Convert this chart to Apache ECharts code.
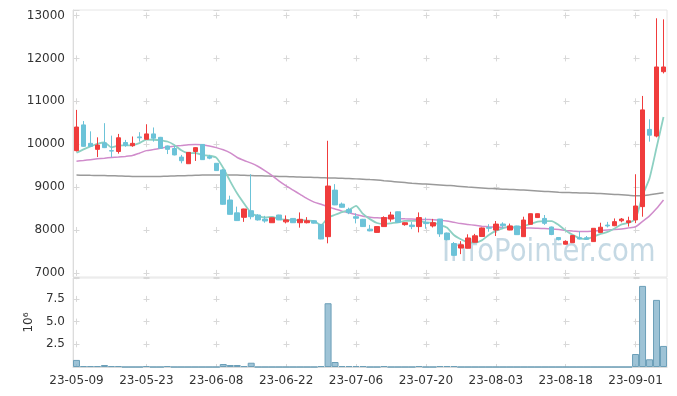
<!DOCTYPE html>
<html><head><meta charset="utf-8">
<script src="https://cdn.jsdelivr.net/npm/echarts@6/dist/echarts.min.js"></script>
<style>html,body{margin:0;padding:0;background:#fff}#c{width:677px;height:396px}</style>
</head><body><div id="c"></div>
<script>
const dates = ['23-05-09','23-05-10','23-05-11','23-05-12','23-05-15','23-05-16','23-05-17','23-05-18','23-05-19','23-05-22',
'23-05-23','23-05-24','23-05-25','23-05-26','23-05-30','23-05-31','23-06-01','23-06-02','23-06-05','23-06-07',
'23-06-08','23-06-09','23-06-12','23-06-13','23-06-14','23-06-15','23-06-16','23-06-19','23-06-20','23-06-21',
'23-06-22','23-06-23','23-06-26','23-06-27','23-06-28','23-06-29','23-06-30','23-07-03','23-07-04','23-07-05',
'23-07-06','23-07-07','23-07-10','23-07-11','23-07-12','23-07-13','23-07-14','23-07-17','23-07-18','23-07-19',
'23-07-20','23-07-21','23-07-24','23-07-25','23-07-26','23-07-27','23-07-28','23-07-31','23-08-01','23-08-02',
'23-08-03','23-08-04','23-08-07','23-08-08','23-08-09','23-08-10','23-08-11','23-08-14','23-08-16','23-08-17',
'23-08-18','23-08-21','23-08-22','23-08-23','23-08-24','23-08-25','23-08-28','23-08-29','23-08-30','23-08-31',
'23-09-01','23-09-04','23-09-05','23-09-06','23-09-07'];

const openP = [9850,10450,10020,9880,10030,9850,9830,10040,9965,10170,
10115,10240,10160,9960,9900,9700,9545,9830,9995,9710,
9555,9400,8700,8400,8296,8450,8350,8255,8170,8350,
8190,8270,8170,8170,8215,8130,7845,8930,8605,8480,
8310,8250,8020,7945,8080,8255,8425,8125,8115,8080,
8180,8095,8255,7930,7685,7580,7575,7715,7850,8060,
8000,8140,8000,8095,7845,8133,8290,8270,8070,7825,
7670,7705,7820,7820,7730,7945,8115,8100,8215,8175,
8235,8545,10345,10190,11690];
const closeP = [10400,9950,9950,9980,9920,9840,10150,9970,10020,10150,
10240,10140,9905,9880,9750,9615,9810,9920,9640,9675,
9385,8600,8365,8220,8490,8310,8235,8210,8285,8235,
8235,8170,8250,8215,8160,7790,9025,8585,8530,8405,
8275,8080,7980,8080,8290,8350,8180,8170,8080,8290,
8150,8170,7910,7775,7410,7655,7815,7865,8048,8040,
8138,8100,8095,7892,8233,8380,8380,8156,7895,7775,
7736,7870,7790,7785,8040,8065,8095,8195,8255,8215,
8560,10800,10210,11800,11800];
const lowP = [9830,9940,9940,9700,9910,9700,9780,9940,9940,10060,
10110,10060,9900,9770,9740,9555,9540,9610,9635,9650,
9380,8590,8360,8215,8190,8250,8220,8170,8165,8230,
8155,8165,8055,8155,8150,7785,7690,8580,8520,8370,
8155,8070,7970,7940,8075,8195,8175,8100,8020,7945,
8030,8060,7840,7760,7395,7438,7570,7710,7845,7960,
7860,8030,7995,7885,7840,8130,8285,8120,7880,7760,
7660,7700,7780,7775,7725,7940,8060,8090,8180,8080,
8160,8310,10060,10160,11650];
const highP = [10800,10540,10300,10160,10490,10200,10240,10100,10180,10280,
10465,10390,10170,9970,9960,9750,9815,9930,10000,9750,
9560,9420,8800,8545,8495,9300,8370,8330,8290,8355,
8340,8280,8410,8300,8230,8140,10080,9070,8640,8520,
8390,8260,8120,8085,8320,8425,8430,8180,8190,8410,
8290,8260,8260,7940,7720,7740,7900,7910,8060,8135,
8210,8180,8150,8100,8310,8385,8385,8350,8080,7835,
7760,7875,7970,7860,8045,8170,8190,8270,8280,8310,
9300,11125,10580,12935,12910];
// volume in units of 10^6
const volume = [0.78,0.1,0.1,0.1,0.22,0.1,0.1,0,0,0,
0.1,0,0,0.1,0,0,0,0,0,0,
0,0.33,0.22,0.22,0.1,0.47,0,0,0,0,
0,0,0,0,0,0.1,7.02,0.55,0.1,0.1,
0.1,0.1,0,0,0.1,0,0,0,0,0.1,
0,0,0.1,0.1,0.1,0,0,0,0,0,
0,0,0,0,0,0,0,0,0,0,
0,0,0,0,0,0,0,0,0,0,
1.43,8.93,0.85,7.39,2.32];
// first MA5 values (need closes before the visible range)
const ma5Start = [9800,9880,9950,10010];
const ma20 = [9605,9620,9640,9660,9675,9690,9700,9715,9735,9790,
9850,9875,9905,9935,9955,9970,9990,9995,9990,9960,
9920,9870,9800,9690,9620,9560,9480,9380,9270,9140,
9030,8930,8830,8730,8650,8600,8540,8490,8440,8400,
8360,8320,8300,8285,8280,8280,8270,8260,8255,8250,
8245,8240,8230,8210,8180,8150,8130,8110,8090,8075,
8065,8060,8055,8050,8045,8045,8040,8035,8025,8010,
7990,7975,7965,7965,7975,7990,8000,8010,8025,8050,
8075,8200,8330,8500,8700];
const ma120 = [9280,9278,9275,9272,9268,9264,9260,9255,9250,9248,
9247,9248,9250,9255,9260,9265,9270,9275,9280,9283,
9285,9285,9283,9280,9275,9270,9265,9260,9255,9250,
9245,9240,9235,9230,9225,9220,9215,9210,9205,9200,
9192,9185,9175,9165,9150,9135,9120,9105,9090,9080,
9070,9060,9050,9040,9030,9015,9000,8990,8980,8970,
8960,8950,8945,8940,8930,8920,8910,8900,8890,8880,
8875,8870,8865,8860,8855,8850,8840,8830,8820,8810,
8800,8800,8820,8845,8870];

const ma5 = closeP.map((c,i)=>{
  if(i<4) return ma5Start[i];
  let s=0; for(let k=i-4;k<=i;k++) s+=closeP[k]; return Math.round(s/5);
});
const candleData = dates.map((d,i)=>[openP[i],closeP[i],lowP[i],highP[i]]);

const UP='#f03c3c', DOWN='#6cc3d8';
const chart = echarts.init(document.getElementById('c'));
const crossColor='#d8d8d8';
chart.setOption({
  animation:false,
  backgroundColor:'#fff',
  textStyle:{fontFamily:'DejaVu Sans, sans-serif'},
  graphic:[{type:'text',left:442,top:237,z:0,silent:true,scaleX:0.86,
    style:{text:'InfoPointer.com',font:'32px "DejaVu Sans", sans-serif',fill:'rgba(150,185,205,0.55)'}}],
  grid:[{left:73,right:10,top:10,height:267,show:true,borderColor:'#e6e6e6',borderWidth:1,backgroundColor:'transparent'},
        {left:73,right:10,top:278,height:89,show:true,borderColor:'#e6e6e6',borderWidth:1,backgroundColor:'transparent'}],
  xAxis:[
    {type:'category',gridIndex:0,data:dates,boundaryGap:true,
     axisLine:{show:false},axisTick:{show:false},axisLabel:{show:false,interval:9},
     splitLine:{show:true,interval:9,alignWithLabel:true,lineStyle:{color:crossColor,width:1,type:[6,36.906],dashOffset:40.41}}},
    {type:'category',gridIndex:1,data:dates,boundaryGap:true,
     axisLine:{show:true,lineStyle:{color:'#dcdcdc'}},axisTick:{show:false},
     axisLabel:{interval:9,color:'#333',fontSize:12,margin:8},
     splitLine:{show:true,interval:9,alignWithLabel:true,lineStyle:{color:crossColor,width:1,type:[6,16.704],dashOffset:4.8}}}
  ],
  yAxis:[
    {type:'value',gridIndex:0,min:6905,max:13128,splitNumber:6,
     axisLine:{show:true,lineStyle:{color:'#dcdcdc'}},axisTick:{show:false},
     axisLabel:{color:'#333',fontSize:12,formatter:v=> (v%1000===0? String(v):'')},
     splitLine:{show:true,lineStyle:{color:crossColor,width:1,type:[6,64],dashOffset:69.5}}},
    {type:'value',gridIndex:1,min:0,max:9.8,interval:2.5,
     name:'10⁶',nameLocation:'middle',nameRotate:90,nameGap:34,nameTextStyle:{color:'#333',fontSize:12},
     axisLine:{show:true,lineStyle:{color:'#dcdcdc'}},axisTick:{show:false},
     axisLabel:{color:'#333',fontSize:12,formatter:v=> (v>0 && Math.abs(v/2.5-Math.round(v/2.5))<1e-6 ? v.toFixed(1):'')},
     splitLine:{show:true,lineStyle:{color:crossColor,width:1,type:[6,64],dashOffset:69.5}}}
  ],
  series:[
    {name:'MA120',type:'line',xAxisIndex:0,yAxisIndex:0,data:ma120,showSymbol:false,smooth:0.2,
     lineStyle:{color:'#9a9a9a',width:1.5},z:2},
    {name:'MA20',type:'line',xAxisIndex:0,yAxisIndex:0,data:ma20,showSymbol:false,smooth:0.2,
     lineStyle:{color:'#d08ccb',width:1.5},z:2},
    {name:'MA5',type:'line',xAxisIndex:0,yAxisIndex:0,data:ma5,showSymbol:false,smooth:0.2,
     lineStyle:{color:'#8dd0c2',width:1.8},z:2},
    {name:'price',type:'candlestick',xAxisIndex:0,yAxisIndex:0,data:candleData,barWidth:5,
     itemStyle:{color:UP,color0:DOWN,borderColor:UP,borderColor0:DOWN,borderWidth:1},z:3},
    {name:'volume',type:'bar',xAxisIndex:1,yAxisIndex:1,data:volume,barCategoryGap:'0%',
     itemStyle:{color:'rgba(125,175,200,0.75)',borderColor:'#6c9fb8',borderWidth:1}}
  ]
});
</script></body></html>
